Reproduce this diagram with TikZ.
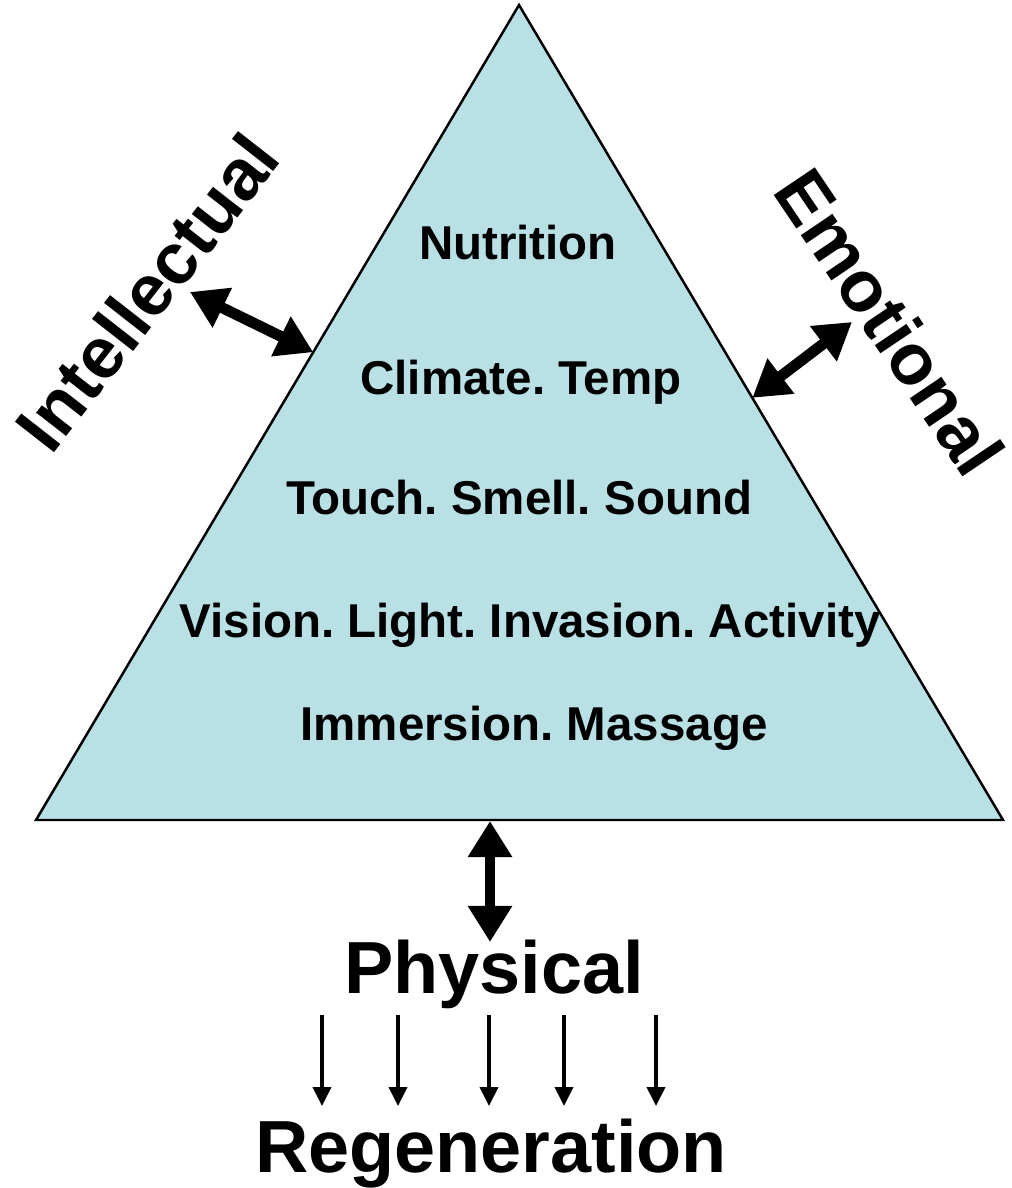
\documentclass[tikz,border=0pt]{standalone}
\usepackage{fontspec}
\setmainfont{Liberation Sans}
\usepackage{xcolor}
\usetikzlibrary{arrows.meta,positioning}
\definecolor{pyramidblue}{RGB}{185,224,228}
\frenchspacing

\begin{document}
\begin{tikzpicture}[x=0.01cm,y=-0.01cm,
    level/.style={font=\fontsize{13.5}{16}\selectfont\bfseries, anchor=base},
    big/.style={font=\fontsize{21}{25}\selectfont\bfseries, anchor=base},
    side/.style={font=\fontsize{20.5}{24}\selectfont\bfseries},
    bigarrow/.style={line width=3.1pt, {Triangle[length=0.36cm,width=0.42cm]}-{Triangle[length=0.36cm,width=0.42cm]}},
    smallarrow/.style={line width=1.1pt, -{Triangle[length=0.19cm,width=0.18cm]}}]
    \useasboundingbox (0,0) rectangle (1011,1188);

    % Pyramid
    \coordinate (top) at (519,5);
    \coordinate (bl) at (36,820);
    \coordinate (br) at (1003,820);
    \draw[fill=pyramidblue, line width=0.7pt] (top) -- (bl) -- (br) -- cycle;

    % Levels
    \node[level] (nutrition) at (518,259) {Nutrition};
    \node[level] (climate) at (521,394) {Climate. Temp};
    \node[level] (touch) at (519,514) {Touch. Smell. Sound};
    \node[level] (vision) at (530,637) {Vision. Light. Invasion. Activity};
    \node[level] (immersion) at (534,740) {Immersion. Massage};

    % Side labels
    \node[side, rotate=52] (intellectual) at (147,292) {Intellectual};
    \node[side, rotate=-56] (emotional) at (890,322) {Emotional};
    \node[big] (physical) at (494,993) {Physical};
    \node[big] (regeneration) at (491,1172) {Regeneration};

    % Arrows
    \path (top) -- (bl) coordinate[pos=0.426] (leftpt);
    \path (top) -- (br) coordinate[pos=0.482] (rightpt);
    \coordinate (basept) at (490,821);
    \coordinate (intelpt) at (190,292);
    \coordinate (emopt) at (852,322);
    \coordinate (physpt) at (490,942);
    \draw[bigarrow] (intelpt) -- (leftpt);
    \draw[bigarrow] (rightpt) -- (emopt);
    \draw[bigarrow] (basept) -- (physpt);

    \foreach \x in {322,398,489,564,656} {
        \coordinate (from\x) at (\x,1015);
        \coordinate (to\x) at (\x,1106);
        \draw[smallarrow] (from\x) -- (to\x);
    }
\end{tikzpicture}
\end{document}
